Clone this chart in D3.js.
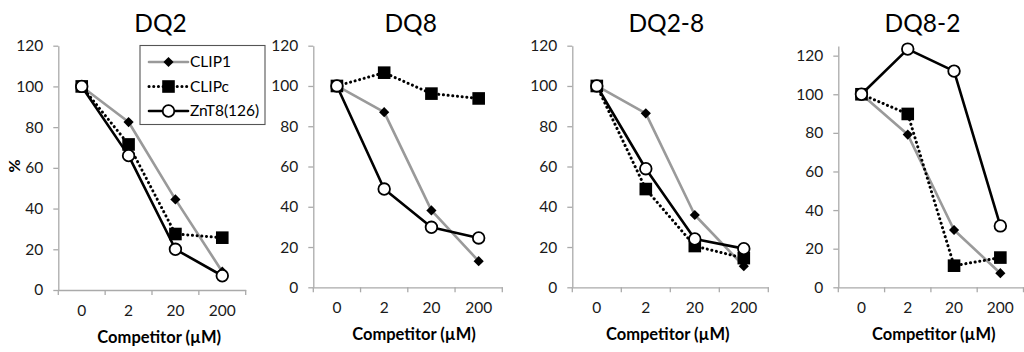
<!DOCTYPE html>
<html>
<head>
<meta charset="utf-8">
<script src="https://cdn.jsdelivr.net/npm/d3@7"></script>
<style>
  html, body { margin: 0; padding: 0; background: #fff; }
  svg { display: block; font-family: Lato, "Open Sans", sans-serif; }
</style>
</head>
<body>
<svg id="chart" width="1024" height="352"></svg>
<script>
// Competitor concentrations (µM) on the x axis
const concentrations = ["0", "2", "20", "200"];
const seriesNames = ["CLIP1", "CLIPc", "ZnT8(126)"];
const panelTitles = ["DQ2", "DQ8", "DQ2-8", "DQ8-2"];
const yTicks = [0, 20, 40, 60, 80, 100, 120];

// Remaining binding (%) per allele, one array per competitor peptide
const clip1Values = [
  [100, 82.5, 44.5, 9],
  [100, 87, 38.2, 13],
  [100, 86.4, 35.9, 10.5],
  [100, 79.1, 29.7, 7.3]
];
const clipcValues = [
  [100, 71.5, 27.5, 25.7],
  [100, 106.6, 96.2, 93.8],
  [100, 48.8, 20.5, 14.5],
  [100, 89.8, 11.2, 15.4]
];
const znt8Values = [
  [100, 66, 20, 7],
  [100, 48.8, 29.8, 24.5],
  [100, 58.9, 24, 19.2],
  [100, 123.4, 112, 31.8]
];

// Layout of the four small-multiple panels
const layout = [
  { left: 58.3, right: 245.7, top: 45.7, bottom: 290, yMax: 120, titleX: 160.5, xTitleX: 159.2 },
  { left: 313.3, right: 502.3, top: 45.7, bottom: 287.3, yMax: 120, titleX: 410.7, xTitleX: 414 },
  { left: 572.3, right: 768.3, top: 45.7, bottom: 287.3, yMax: 120, titleX: 666.3, xTitleX: 667.8 },
  { left: 838.3, right: 1023.5, top: 46, bottom: 287.3, yMax: 125, titleX: 922.5, xTitleX: 933.8 }
];

const styles = {
  "CLIP1": { stroke: "#9a9a9a", width: 2.6, dash: null, marker: "diamond" },
  "CLIPc": { stroke: "#000", width: 3, dash: "0.1 4.6", marker: "square" },
  "ZnT8(126)": { stroke: "#000", width: 2.6, dash: null, marker: "circle" }
};
const valuesBySeries = { "CLIP1": clip1Values, "CLIPc": clipcValues, "ZnT8(126)": znt8Values };

const svg = d3.select("#chart");
const axisColor = "#aaaaaa";
const tickFont = "15.5px";

function drawMarker(g, type, x, y) {
  if (type === "diamond") {
    g.append("path")
      .attr("d", d3.symbol(d3.symbolDiamond2, 66)())
      .attr("transform", `translate(${x},${y})`)
      .attr("fill", "#000");
  } else if (type === "square") {
    g.append("rect")
      .attr("x", x - 6.3).attr("y", y - 6.3)
      .attr("width", 12.6).attr("height", 12.6)
      .attr("fill", "#000");
  } else {
    g.append("circle")
      .attr("cx", x).attr("cy", y).attr("r", 5.8)
      .attr("fill", "#fff").attr("stroke", "#000").attr("stroke-width", 1.8);
  }
}

panelTitles.forEach((title, i) => {
  const L = layout[i];
  const g = svg.append("g");

  const x = d3.scaleBand().domain(concentrations).range([L.left, L.right]).padding(0);
  const y = d3.scaleLinear().domain([0, L.yMax]).range([L.bottom, L.top]);

  // y axis
  const yAxis = g.append("g")
    .attr("transform", `translate(${L.left},0)`)
    .call(d3.axisLeft(y).tickValues(yTicks).tickSize(5).tickSizeOuter(0).tickPadding(10));
  yAxis.select(".domain").attr("stroke", axisColor).attr("stroke-width", 1.3);
  yAxis.selectAll(".tick line").attr("stroke", axisColor).attr("stroke-width", 1.3);
  yAxis.selectAll(".tick text")
    .attr("fill", "#1a1a1a").style("font-size", tickFont).style("font-family", "Lato, sans-serif");

  // x axis: labels at band centres, tick marks at band boundaries
  const xAxis = g.append("g")
    .attr("transform", `translate(0,${L.bottom})`)
    .call(d3.axisBottom(x).tickSize(0).tickPadding(15));
  xAxis.select(".domain").attr("stroke", axisColor).attr("stroke-width", 1.3);
  xAxis.selectAll(".tick text")
    .attr("fill", "#1a1a1a").style("font-size", tickFont).style("font-family", "Lato, sans-serif");
  const bounds = concentrations.map(c => x(c)).concat([x.range()[1]]);
  xAxis.selectAll(".btick").data(bounds).enter().append("line")
    .attr("x1", d => d).attr("x2", d => d)
    .attr("y1", 0).attr("y2", 5)
    .attr("stroke", axisColor).attr("stroke-width", 1.3);

  // Panel title
  g.append("text")
    .attr("x", L.titleX).attr("y", 32)
    .attr("text-anchor", "middle")
    .style("font-size", "24.5px")
    .attr("fill", "#000")
    .text(title);

  // X axis title
  g.append("text")
    .attr("x", L.xTitleX).attr("y", L.bottom + 53)
    .attr("text-anchor", "middle")
    .style("font-size", "16.5px").style("font-weight", "bold")
    .attr("fill", "#000")
    .text("Competitor (µM)");

  // Series lines then markers
  const line = d3.line()
    .x((d, j) => x(concentrations[j]) + x.bandwidth() / 2)
    .y(d => y(d));

  seriesNames.forEach(name => {
    const s = styles[name];
    const vals = valuesBySeries[name][i];
    const sg = g.append("g");
    sg.append("path")
      .datum(vals)
      .attr("d", line)
      .attr("fill", "none")
      .attr("stroke", s.stroke)
      .attr("stroke-width", s.width)
      .attr("stroke-linecap", "round")
      .attr("stroke-linejoin", "round")
      .attr("stroke-dasharray", s.dash);
    vals.forEach((v, j) => {
      drawMarker(sg, s.marker, x(concentrations[j]) + x.bandwidth() / 2, y(v));
    });
  });
});

// Y axis title for the first panel
svg.append("text")
  .attr("transform", "translate(19.5,166) rotate(-90)")
  .attr("text-anchor", "middle")
  .style("font-size", "16px").style("font-weight", "bold")
  .text("%");

// Legend
const legend = svg.append("g");
legend.append("rect")
  .attr("x", 140).attr("y", 45.5)
  .attr("width", 125).attr("height", 79)
  .attr("fill", "#fff").attr("stroke", "#555").attr("stroke-width", 1.1);
const legendRows = [62, 86.5, 111];
seriesNames.forEach((name, k) => {
  const s = styles[name];
  const ly = legendRows[k];
  legend.append("line")
    .attr("x1", 149).attr("x2", 188).attr("y1", ly).attr("y2", ly)
    .attr("stroke", s.stroke).attr("stroke-width", s.width)
    .attr("stroke-linecap", "round")
    .attr("stroke-dasharray", s.dash);
  drawMarker(legend, s.marker, 168.5, ly);
  legend.append("text")
    .attr("x", 190).attr("y", ly).attr("dy", "0.35em")
    .style("font-size", "15.5px")
    .text(name);
});
</script>
</body>
</html>
